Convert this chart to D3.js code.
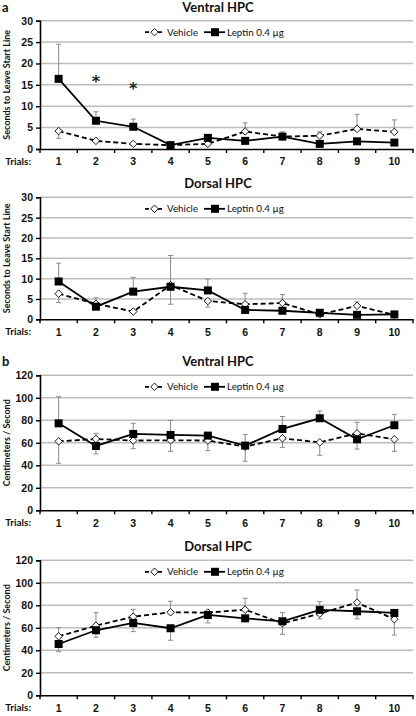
<!DOCTYPE html>
<html><head><meta charset="utf-8">
<script src="https://cdn.jsdelivr.net/npm/d3@7"></script>
<style>
html,body{margin:0;padding:0;background:#fff;}
svg{display:block;font-family:Lato,"Open Sans",sans-serif;}
</style></head><body>
<svg id="c" width="416" height="716"></svg>
<script>
const trials = [1,2,3,4,5,6,7,8,9,10];
const secTicks = [0,5,10,15,20,25,30];
const cmTicks = [0,20,40,60,80,100,120];
const seriesNames = ["Vehicle","Leptin 0.4 µg"];
const panelTitles = ["Ventral HPC","Dorsal HPC","Ventral HPC","Dorsal HPC"];
const yLabels = ["Seconds to Leave Start Line","Centimeters / Second"];

// Panel a, Ventral
const aVentralVeh = [4.2,1.9,1.2,0.9,1.2,4.1,2.9,3.1,4.7,4.0];
const aVentralVehUp = [0,0,0,0,0,2.0,0,0.9,3.4,2.8];
const aVentralVehDown = [1.7,0,0,0,0,0,0,0,0,0];
const aVentralLep = [16.4,6.6,5.2,0.9,2.6,1.9,2.9,1.2,1.8,1.5];
const aVentralLepUp = [8.1,2.1,1.8,0,0,0,1.1,0,0,0];
const aVentralLepDown = [0,0,0,0,0,0,0,0,0,0];
const aVentralStars = [[2,17.3],[3,15.7]];

// Panel a, Dorsal
const aDorsalVeh = [6.3,3.8,1.9,8.4,4.5,3.7,4.0,1.2,3.3,1.1];
const aDorsalVehUp = [0,0,0,0,0,2.7,2.1,0,1.0,0];
const aDorsalVehDown = [2.2,0,0,4.7,1.5,0,0,0,0,0];
const aDorsalLep = [9.3,3.1,6.8,8.0,7.1,2.3,2.1,1.6,1.1,1.2];
const aDorsalLepUp = [4.5,2.2,3.5,7.7,2.8,0,0,0,0,0];
const aDorsalLepDown = [0,0,0,0,0,0,0,0,0,0];

// Panel b, Ventral
const bVentralVeh = [61.3,63.4,62.0,62.2,62.0,56.6,64.0,60.4,68.4,63.1];
const bVentralVehUp = [0,5,0,0,0,0,0,0,9.8,0];
const bVentralVehDown = [19.5,0,7.2,9.8,9,13,8,11.5,0,10.7];
const bVentralLep = [77.3,57.2,67.9,67.0,66.4,57.5,72.3,81.8,63.1,75.6];
const bVentralLepUp = [23.7,0,9.4,13,0,9.8,11,6.5,0,9.7];
const bVentralLepDown = [0,7.2,0,0,0,0,0,0,8.6,0];

// Panel b, Dorsal
const bDorsalVeh = [52.4,61.9,69.9,73.8,73.5,76.1,64.0,72.6,82.4,67.6];
const bDorsalVehUp = [7.7,11.6,6.5,9.8,0,10.1,0,0,11.2,0];
const bDorsalVehDown = [0,0,0,0,0,0,0,4.7,0,14];
const bDorsalLep = [45.6,57.8,64.3,59.6,71.4,68.4,65.8,75.9,74.7,73.2];
const bDorsalLepUp = [0,0,0,0,0,0,7.7,7.4,0,0];
const bDorsalLepDown = [6.8,6.2,7.7,10.7,7.1,0,11.6,0,6.8,0];

const panels = [
  {title:panelTitles[0], letter:"a", ticks:secTicks, ylab:yLabels[0], top:20.7, bottom:149,
   veh:aVentralVeh, vehUp:aVentralVehUp, vehDown:aVentralVehDown,
   lep:aVentralLep, lepUp:aVentralLepUp, lepDown:aVentralLepDown, stars:aVentralStars},
  {title:panelTitles[1], ticks:secTicks, ylab:yLabels[0], top:197.3, bottom:319.3,
   veh:aDorsalVeh, vehUp:aDorsalVehUp, vehDown:aDorsalVehDown,
   lep:aDorsalLep, lepUp:aDorsalLepUp, lepDown:aDorsalLepDown, stars:[]},
  {title:panelTitles[2], letter:"b", ticks:cmTicks, ylab:yLabels[1], top:375.3, bottom:510.3,
   veh:bVentralVeh, vehUp:bVentralVehUp, vehDown:bVentralVehDown,
   lep:bVentralLep, lepUp:bVentralLepUp, lepDown:bVentralLepDown, stars:[]},
  {title:panelTitles[3], ticks:cmTicks, ylab:yLabels[1], top:560.3, bottom:695.3,
   veh:bDorsalVeh, vehUp:bDorsalVehUp, vehDown:bDorsalVehDown,
   lep:bDorsalLep, lepUp:bDorsalLepUp, lepDown:bDorsalLepDown, stars:[]}
];

const svg = d3.select("#c");
const left = 40, right = 413;
const x = d3.scaleBand().domain(trials).range([left,right]).padding(0);
const cx = d => x(d) + x.bandwidth()/2;

panels.forEach((p,i) => {
  const g = svg.append("g");
  const ymax = p.ticks[p.ticks.length-1];
  const y = d3.scaleLinear().domain([0,ymax]).range([p.bottom,p.top]);

  // gridlines
  g.selectAll("line.grid").data(p.ticks.filter(t=>t>0)).join("line")
    .attr("x1",left).attr("x2",right).attr("y1",d=>y(d)).attr("y2",d=>y(d))
    .attr("stroke","#bdbdbd").attr("stroke-width",1.5);

  // y axis
  const ya = g.append("g").attr("transform",`translate(${left},0)`)
    .call(d3.axisLeft(y).tickValues(p.ticks).tickSize(4).tickPadding(3).tickFormat(d3.format("d")));
  ya.select(".domain").attr("stroke","#000").attr("stroke-width",1.6);
  ya.selectAll(".tick line").attr("stroke","#000").attr("stroke-width",1.4);
  ya.selectAll("text").attr("font-size",10.5).attr("font-weight",700).attr("fill","#111");

  // x axis
  const xa = g.append("g").attr("transform",`translate(0,${p.bottom})`)
    .call(d3.axisBottom(x).tickSize(0).tickPadding(9));
  xa.select(".domain").attr("stroke","#000").attr("stroke-width",1.6);
  xa.selectAll("text").attr("font-size",10.5).attr("font-weight",700).attr("fill","#111");
  g.selectAll("line.xt").data(trials.concat(["end"])).join("line")
    .attr("x1",d=>d==="end"?right:x(d)).attr("x2",d=>d==="end"?right:x(d))
    .attr("y1",p.bottom).attr("y2",p.bottom+4)
    .attr("stroke","#000").attr("stroke-width",1.4);
  g.append("text").attr("x",31).attr("y",p.bottom+9).attr("dy","0.71em")
    .attr("text-anchor","end").attr("font-size",10).attr("font-weight",700).attr("fill","#111")
    .text("Trials:");

  // title
  g.append("text").attr("x",218).attr("y",p.top-9).attr("text-anchor","middle")
    .attr("font-size",13).attr("font-weight",700).attr("fill","#111").text(p.title);
  if (p.letter) g.append("text").attr("x",2).attr("y",p.top-9)
    .attr("font-size",13).attr("font-weight",700).attr("fill","#111").text(p.letter);

  // y label
  g.append("text").attr("transform",`translate(10,${(p.top+p.bottom)/2}) rotate(-90)`)
    .attr("text-anchor","middle").attr("font-size",9).attr("font-weight",700).attr("fill","#111")
    .text(p.ylab);

  // error bars
  const errs = [];
  trials.forEach((t,k) => {
    if (p.vehUp[k]>0) errs.push([t,p.veh[k],p.veh[k]+p.vehUp[k]]);
    if (p.vehDown[k]>0) errs.push([t,p.veh[k],p.veh[k]-p.vehDown[k]]);
    if (p.lepUp[k]>0) errs.push([t,p.lep[k],p.lep[k]+p.lepUp[k]]);
    if (p.lepDown[k]>0) errs.push([t,p.lep[k],p.lep[k]-p.lepDown[k]]);
  });
  const eg = g.append("g").attr("stroke","#8a8a8a").attr("stroke-width",1);
  eg.selectAll("line.ev").data(errs).join("line")
    .attr("x1",d=>cx(d[0])).attr("x2",d=>cx(d[0])).attr("y1",d=>y(d[1])).attr("y2",d=>y(d[2]));
  eg.selectAll("line.ec").data(errs).join("line")
    .attr("x1",d=>cx(d[0])-2.5).attr("x2",d=>cx(d[0])+2.5).attr("y1",d=>y(d[2])).attr("y2",d=>y(d[2]));

  const line = d3.line().x((d,k)=>cx(trials[k])).y(d=>y(d));
  g.append("path").datum(p.veh).attr("d",line).attr("fill","none")
    .attr("stroke","#000").attr("stroke-width",1.8).attr("stroke-dasharray","5,3");
  g.append("path").datum(p.lep).attr("d",line).attr("fill","none")
    .attr("stroke","#000").attr("stroke-width",1.8);

  const diamond = d3.symbol().type(d3.symbolDiamond2).size(36);
  g.selectAll("path.vm").data(p.veh).join("path")
    .attr("transform",(d,k)=>`translate(${cx(trials[k])},${y(d)})`)
    .attr("d",diamond).attr("fill","#fff").attr("stroke","#000").attr("stroke-width",0.9);
  g.selectAll("rect.lm").data(p.lep).join("rect")
    .attr("x",(d,k)=>cx(trials[k])-4).attr("y",d=>y(d)-4).attr("width",8).attr("height",8)
    .attr("fill","#000");

  // stars
  g.selectAll("text.star").data(p.stars).join("text")
    .attr("x",d=>cx(d[0])).attr("y",d=>y(d[1])).attr("dy","0.75em").attr("text-anchor","middle")
    .attr("font-family","DejaVu Sans").attr("font-size",16).attr("font-weight",700)
    .attr("fill","#222").text("*");

  // legend
  const ly = p.top + 11.5;
  const lg = g.append("g");
  lg.append("line").attr("x1",145).attr("x2",164).attr("y1",ly).attr("y2",ly)
    .attr("stroke","#000").attr("stroke-width",1.8).attr("stroke-dasharray","4,2.5");
  lg.append("path").attr("transform",`translate(154.5,${ly})`).attr("d",diamond)
    .attr("fill","#fff").attr("stroke","#000").attr("stroke-width",0.9);
  lg.append("text").attr("x",167).attr("y",ly).attr("dy","0.35em").attr("font-size",9.8)
    .attr("fill","#111").text(seriesNames[0]);
  lg.append("line").attr("x1",204).attr("x2",225).attr("y1",ly).attr("y2",ly)
    .attr("stroke","#000").attr("stroke-width",1.8);
  lg.append("rect").attr("x",211).attr("y",ly-4).attr("width",8).attr("height",8).attr("fill","#000");
  lg.append("text").attr("x",227).attr("y",ly).attr("dy","0.35em").attr("font-size",9.8)
    .attr("fill","#111").text(seriesNames[1]);
});
</script>
</body></html>
